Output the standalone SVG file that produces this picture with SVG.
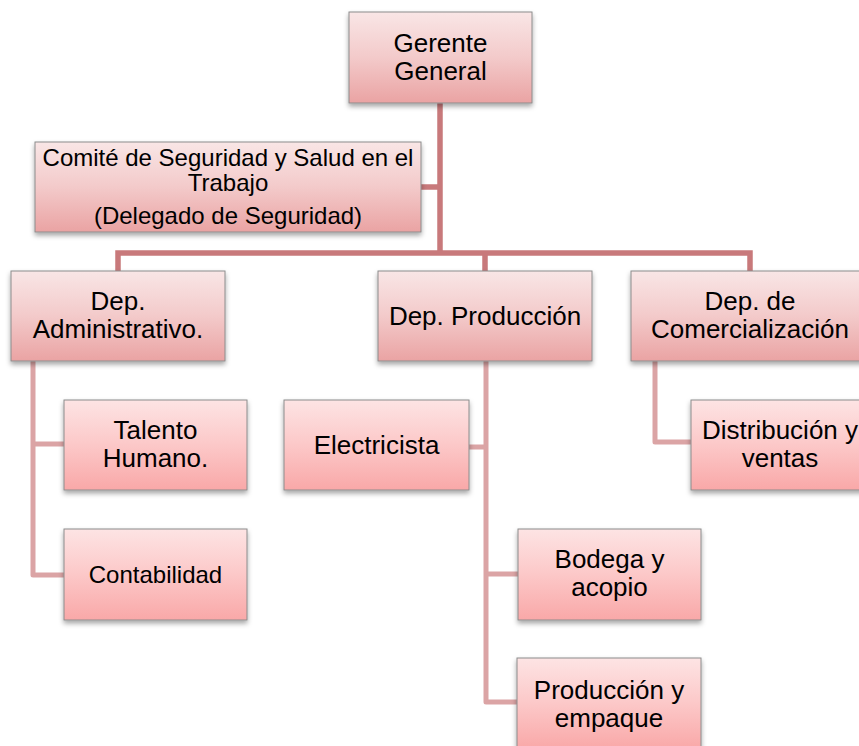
<svg xmlns="http://www.w3.org/2000/svg" width="859" height="746" viewBox="0 0 859 746">
<defs>
<linearGradient id="g1" x1="0" y1="0" x2="0" y2="1"><stop offset="0" stop-color="#f9e6e6"/><stop offset="0.5" stop-color="#f3caca"/><stop offset="1" stop-color="#eaa3a3"/></linearGradient>
<linearGradient id="g2" x1="0" y1="0" x2="0" y2="1"><stop offset="0" stop-color="#fde4e4"/><stop offset="0.5" stop-color="#fcc8c8"/><stop offset="1" stop-color="#f9a8a8"/></linearGradient>
<filter id="sh" x="-10%" y="-10%" width="120%" height="130%"><feDropShadow dx="0" dy="3" stdDeviation="2.5" flood-color="#000" flood-opacity="0.35"/></filter>
</defs>
<style>
.b1{fill:url(#g1);stroke:#8c8c8c;stroke-width:1;filter:url(#sh)}
.b2{fill:url(#g2);stroke:#8c8c8c;stroke-width:1;filter:url(#sh)}
text{font-family:"Liberation Sans",Arial,sans-serif;font-size:26px;fill:#000;text-anchor:middle}
.s{font-size:24px}
.m{fill:none;stroke:#c8797b;stroke-width:5.5}
.c{fill:none;stroke:#dba4a5;stroke-width:5;stroke-linejoin:round}
</style>
<rect width="859" height="746" fill="#fff"/>
<g id="connectors">
<path class="m" d="M440 103V253M421 187H440M118 271V253H750V271M485 253V271"/>
<path class="c" d="M33 361V575H64M33 444H64"/>
<path class="c" d="M486 361V702H517M469 447H486M486 574H518"/>
<path class="c" d="M655 361V442H691"/>
</g>
<g id="gerente"><rect class="b1" x="349" y="12" width="183" height="91"/><text x="440.5" y="52">Gerente</text><text x="440.5" y="80">General</text></g>
<g id="comite"><rect class="b1" x="35" y="142" width="386" height="90"/><text class="s" x="228" y="166">Comité de Seguridad y Salud en el</text><text class="s" x="228" y="191">Trabajo</text><text class="s" x="228" y="224">(Delegado de Seguridad)</text></g>
<g id="administrativo"><rect class="b1" x="11" y="271" width="214" height="90"/><text x="118" y="310">Dep.</text><text x="118" y="338">Administrativo.</text></g>
<g id="produccion"><rect class="b1" x="378" y="271" width="214" height="90"/><text x="485" y="325">Dep. Producción</text></g>
<g id="comercializacion"><rect class="b1" x="631" y="271" width="238" height="90"/><text x="750" y="310">Dep. de</text><text x="750" y="338">Comercialización</text></g>
<g id="talento"><rect class="b2" x="64" y="400" width="183" height="90"/><text x="155.5" y="439">Talento</text><text x="155.5" y="467">Humano.</text></g>
<g id="contabilidad"><rect class="b2" x="64" y="529" width="183" height="91"/><text class="s" x="155.5" y="583">Contabilidad</text></g>
<g id="electricista"><rect class="b2" x="284" y="400" width="185" height="90"/><text x="376.5" y="454">Electricista</text></g>
<g id="distribucion"><rect class="b2" x="691" y="400" width="183" height="90"/><text x="780" y="439">Distribución y</text><text x="780" y="467">ventas</text></g>
<g id="bodega"><rect class="b2" x="518" y="529" width="183" height="91"/><text x="609.5" y="568">Bodega y</text><text x="609.5" y="596">acopio</text></g>
<g id="empaque"><rect class="b2" x="517" y="658" width="184" height="91"/><text x="609" y="699">Producción y</text><text x="609" y="727">empaque</text></g>
</svg>
